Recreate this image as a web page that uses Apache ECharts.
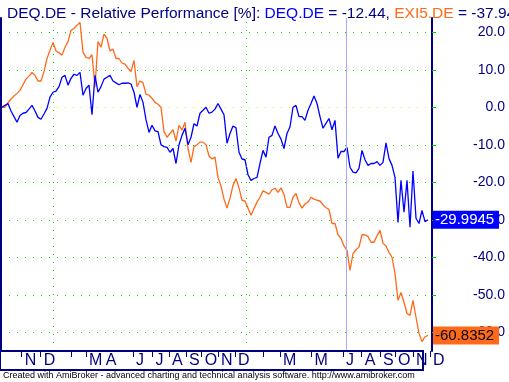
<!DOCTYPE html>
<html><head><meta charset="utf-8">
<script src="https://cdn.jsdelivr.net/npm/echarts@6/dist/echarts.min.js"></script>
<style>html,body{margin:0;padding:0;background:#fff}#c{width:509px;height:382px}</style>
</head><body><div id="c"></div>
<script>
// DEQ.DE relative performance [%], one value per bar
const deqValues = [
  0, 0.5, 1, -1, -2.5, -4, -2.2, -1.6, -1.4, -0.5,
  0.5, -1, -2.7, -3.2, -1.8, -0.3, 2.7, 4, 4.3, 5.5,
  8, 8.5, 5.9, 7.7, 8.8, 8.5, 9.3, 3.2, 5, 5.9,
  -2, 8.5, 4, 5.5, 7.5, 8, 8.5, 7, 6.5, 6,
  6.4, 6.4, 6.5, 6.2, 4, 0, 3.4, 1.3, -3.3, -6.7,
  -4.8, -6.3, -6.5, -10, -10.5, -10.7, -12, -11, -15, -10,
  -7.5, -5.6, -10, -8, -4.4, -5, -1.6, -0.8, 0, -1.6,
  -1.3, -0.5, 1, -0.5, -2, -9.6, -7, -5, -5.5, -12,
  -13.8, -14, -18, -19.5, -19, -18.7, -15, -11.5, -13.3, -8,
  -7.5, -5, -7, -8.5, -11, -7, -5.2, 0, 0.5, -2.5,
  -2.5, -3.5, -0.8, 1, 3, 1, -2.5, -5.6, -4.3, -3,
  -6, -3.5, -13.6, -11.8, -11.8, -10.7, -16, -17.3, -17.5, -16.3,
  -11.5, -14, -15.5, -15, -15, -14.5, -15.5, -14.7, -9.5, -13.7,
  -15.5, -18.7, -30.7, -19.5, -28, -19.5, -32, -17, -29.6, -31,
  -27.5, -30.5, -29.9945
];
// EXI5.DE relative performance [%]
const exi5Values = [
  0, 0, 1.2, 2.2, 3, 3.7, 4.5, 6, 7.5, 8.3,
  9.3, 8.5, 7, 7, 9.5, 13, 15.2, 17.3, 15, 14.5,
  13.9, 16, 17.5, 20.5, 21, 21.9, 22.6, 14.7, 13.3, 13,
  14, 5.5, 17.5, 16, 19.5, 18.4, 15, 15.5, 13, 13,
  11.8, 11.5, 10.4, 9.5, 12.5, 5.5, 7, 6.5, 3.5, 3.2,
  2.4, 1.3, 0.8, 0, -6.5, -8, -7, -6, -9, -4.8,
  -6.1, -4, -11, -14.7, -10.5, -10, -9.3, -9.3, -10, -13,
  -13.8, -13.3, -18.7, -21, -24.5, -26.9, -24.3, -20.8, -19, -21.5,
  -24.8, -25, -26.9, -28.8, -27, -25.3, -24, -22.3, -22.7, -23.2,
  -22, -21.6, -22.7, -21.5, -23.3, -26.7, -26.7, -24, -23, -25.5,
  -26.9, -25.8, -25.3, -24, -24.5, -24.8, -25, -26, -26.8, -27.2,
  -31, -31, -34, -35, -37, -38.1, -43.5, -39, -38, -37.3,
  -34, -34, -34.5, -36, -36, -34.3, -32.8, -36.3, -37, -38.7,
  -40, -44.3, -51.5, -49.4, -52, -55, -55.5, -51.5, -56, -60.3,
  -62.5, -61.2, -60.8352
];
const deqAtCursor = -12.44;
const exi5AtCursor = -37.94;
const cursorBar = 114.67;
const yearStartBars = [17, 81.33];
const monthTickBars = [6.57, 12.9, 23, 28, 43.67, 50.2, 55.67, 61.33, 66.57, 72, 77.67, 87, 92.67, 103.2, 113.67, 119.9, 126, 131, 137, 142.67];
const monthLabelBars = [6.57, 12.9, 28, 33.6, 43.67, 50.2, 55.67, 61.33, 66.57, 72, 77.67, 92.67, 103.2, 113.67, 119.9, 126, 131, 137, 142.67];
const monthLabels = ['N', 'D', 'M', 'A', 'J', 'J', 'A', 'S', 'O', 'N', 'D', 'M', 'M', 'J', 'A', 'S', 'O', 'N', 'D'];
const yTickValues = [-60, -50, -40, -30, -20, -10, 0, 10, 20];

const NAVY = '#000080', GREEN = '#00D000', YELLOW = '#F0F000', BLUE = '#0000FF', ORANGE = '#FF6A1A';
const FF = "'Liberation Sans', Arial, sans-serif";
const FN = "'Liberation Sans Narrow', 'Liberation Sans', Arial, sans-serif";

const chart = echarts.init(document.getElementById('c'));
const deqLast = deqValues[deqValues.length - 1];
const exi5Last = exi5Values[exi5Values.length - 1];

const option = {
  animation: false,
  backgroundColor: '#fff',
  grid: { left: 1, right: 77, top: 18, bottom: 31 },
  title: {
    left: 2, top: 1,
    text: '{n|DEQ.DE - Relative Performance [%]: }{b|DEQ.DE}{n| = ' + deqAtCursor.toFixed(2) + ', }{o|EXI5.DE}{n| = ' + exi5AtCursor.toFixed(2) + '}',
    textStyle: {
      fontWeight: 'normal',
      rich: {
        n: { color: NAVY, fontSize: 15.5, fontFamily: FF, fontWeight: 'normal' },
        b: { color: BLUE, fontSize: 15.5, fontFamily: FF, fontWeight: 'normal' },
        o: { color: ORANGE, fontSize: 15.5, fontFamily: FF, fontWeight: 'normal' }
      }
    }
  },
  xAxis: {
    type: 'value', min: -1 / 3, max: 143 + 1 / 3,
    axisLine: { show: false, onZero: false },
    splitLine: { show: false },
    axisTick: { show: true, customValues: monthTickBars, length: 6, lineStyle: { color: NAVY, width: 1 } },
    axisLabel: {
      customValues: monthLabelBars,
      formatter: function (v) { const i = monthLabelBars.indexOf(v); return i >= 0 ? monthLabels[i] : ''; },
      color: NAVY, fontSize: 16, fontFamily: FN, align: 'left', margin: 2, padding: [0, 0, 0, 3]
    }
  },
  yAxis: [{
    type: 'value', position: 'right', min: -65, max: 23.8,
    axisLine: { show: true, onZero: false, lineStyle: { color: NAVY, width: 2 } },
    axisTick: { show: true, customValues: yTickValues, length: 4, lineStyle: { color: GREEN } },
    axisLabel: { customValues: yTickValues, formatter: function (v) { return v.toFixed(1); }, color: NAVY, fontSize: 14, fontFamily: FF, align: 'right', margin: 73 },
    splitLine: { show: true, lineStyle: { color: yTickValues.map(function (v) { return v === 0 ? YELLOW : GREEN; }), type: [1, 7], width: 1 } }
  }, {
    type: 'value', position: 'left', min: -65, max: 23.8,
    axisLine: { show: true, onZero: false, lineStyle: { color: NAVY, width: 2 } },
    axisTick: { show: false }, axisLabel: { show: false }, splitLine: { show: false }
  }],
  series: [{
    type: 'line', z: 1, data: [], silent: true,
    markLine: {
      silent: true, symbol: 'none', label: { show: false }, animation: false,
      data: yearStartBars.map(function (b) { return { xAxis: b, lineStyle: { color: GREEN, type: [1, 7], width: 1 } }; })
        .concat([{ xAxis: cursorBar, lineStyle: { color: '#A8A8FF', type: 'solid', width: 1 } }])
    }
  }, {
    name: 'EXI5.DE', type: 'line', z: 2, showSymbol: false, symbol: 'none',
    data: exi5Values.map(function (v, i) { return [i, v]; }),
    lineStyle: { color: ORANGE, width: 1.3 }
  }, {
    name: 'DEQ.DE', type: 'line', z: 3, showSymbol: false, symbol: 'none',
    data: deqValues.map(function (v, i) { return [i, v]; }),
    lineStyle: { color: BLUE, width: 1.3 }
  }]
};
chart.setOption(option);

const yDeq = chart.convertToPixel({ yAxisIndex: 0 }, deqLast);
const yExi = chart.convertToPixel({ yAxisIndex: 0 }, exi5Last);
const gridBottom = chart.convertToPixel({ yAxisIndex: 0 }, -65);
chart.setOption({
  graphic: [
    { type: 'rect', z: 10, shape: { x: 0, y: gridBottom, width: 423, height: 19 }, style: { fill: 'none', stroke: NAVY, lineWidth: 2 } },
    { type: 'rect', z: 20, shape: { x: 433, y: yDeq - 9, width: 66, height: 18 }, style: { fill: BLUE } },
    { type: 'text', z: 21, x: 435, y: yDeq, style: { text: deqLast.toFixed(4), fill: '#fff', fontSize: 15, fontFamily: FF, verticalAlign: 'middle' } },
    { type: 'rect', z: 20, shape: { x: 433, y: yExi - 9, width: 66, height: 18 }, style: { fill: ORANGE } },
    { type: 'text', z: 21, x: 435, y: yExi, style: { text: exi5Last.toFixed(4), fill: '#000', fontSize: 15, fontFamily: FF, verticalAlign: 'middle' } },
    { type: 'text', z: 21, x: 3, y: 371, style: { text: 'Created with AmiBroker - advanced charting and technical analysis software. http://www.amibroker.com', fill: '#000', fontSize: 9, fontFamily: FF } }
  ]
});
</script></body></html>
